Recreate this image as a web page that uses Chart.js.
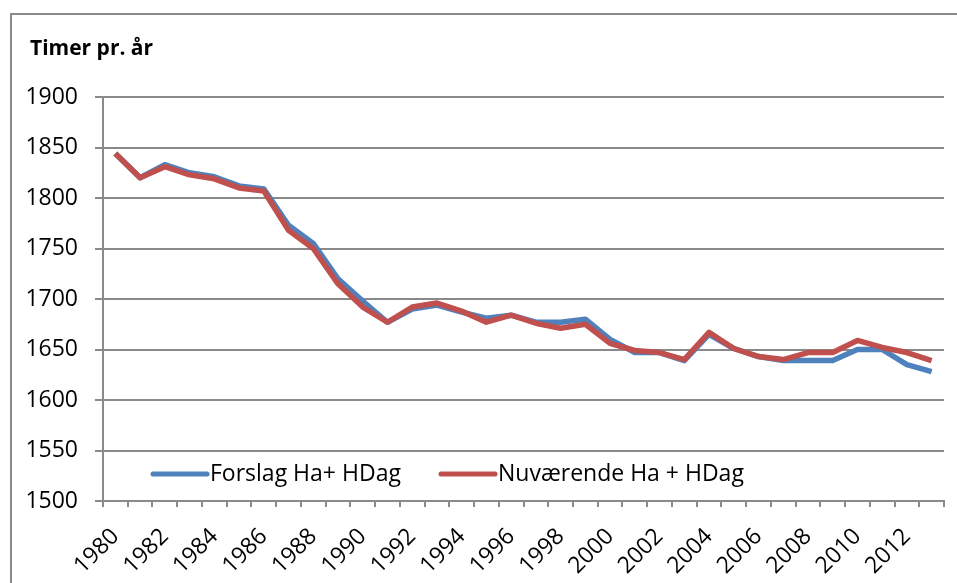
<!DOCTYPE html>
<html>
<head>
<meta charset="utf-8">
<script src="https://cdn.jsdelivr.net/npm/chart.js@4"></script>
<style>
  body { margin: 0; background: #fff; }
  #wrap { position: relative; width: 957px; height: 583px; }
</style>
</head>
<body>
<div id="wrap"><canvas id="timerChart"></canvas></div>
<script>
const years = [];
for (let y = 1980; y <= 2013; y++) years.push(String(y));

const forslag = [1844, 1820, 1833, 1825, 1821, 1812, 1809, 1773, 1755, 1720, 1698, 1677,
    1690, 1694, 1687, 1681, 1684, 1677, 1677, 1680, 1660, 1647, 1647, 1639, 1665, 1651,
    1643, 1639, 1639, 1639, 1650, 1650, 1635, 1628];
const nuvaerende = [1844, 1820, 1831, 1823, 1819, 1810, 1807, 1768, 1750, 1715, 1692, 1677,
    1692, 1696, 1688, 1677, 1684, 1676, 1671, 1675, 1656, 1649, 1647, 1640, 1667, 1651,
    1643, 1640, 1647, 1647, 1659, 1652, 1647, 1639];

const yTicks = [1500, 1550, 1600, 1650, 1700, 1750, 1800, 1850, 1900];
const titleText = "Timer pr. år";
const gridColor = "#8a8a8a";
const fontName = '"Open Sans", "Liberation Sans", sans-serif';

// title, legend inside the plot and the outer frame
const extras = {
    id: "extras",
    afterDraw(chart) {
        const ctx = chart.ctx;
        const area = chart.chartArea;
        ctx.save();
        ctx.strokeStyle = gridColor;
        ctx.lineWidth = 2;
        ctx.strokeRect(11, 14, 960, 600);

        ctx.fillStyle = "#000";
        ctx.font = "bold 21px " + fontName;
        ctx.textBaseline = "middle";
        ctx.textAlign = "left";
        ctx.fillText(titleText, 30, 49);

        ctx.font = "23px " + fontName;
        const legendY = area.bottom - 27;
        const starts = [area.left + 50, area.left + 338];
        chart.data.datasets.forEach((ds, i) => {
            const x = starts[i];
            ctx.strokeStyle = ds.borderColor;
            ctx.lineWidth = 5;
            ctx.lineCap = "round";
            ctx.beginPath();
            ctx.moveTo(x, legendY);
            ctx.lineTo(x + 54, legendY);
            ctx.stroke();
            ctx.fillText(ds.label, x + 57, legendY);
        });
        ctx.restore();
    }
};

const ctx = document.getElementById("timerChart").getContext("2d");
new Chart(ctx, {
    type: "line",
    data: {
        labels: years,
        datasets: [
            {
                label: "Forslag Ha+ HDag",
                data: forslag,
                borderColor: "#4F81BD",
                borderWidth: 5.5,
                pointRadius: 0,
                tension: 0,
                borderJoinStyle: "round",
                order: 2
            },
            {
                label: "Nuværende Ha + HDag",
                data: nuvaerende,
                borderColor: "#C0504D",
                borderWidth: 5.5,
                pointRadius: 0,
                tension: 0,
                borderJoinStyle: "round",
                order: 1
            }
        ]
    },
    options: {
        responsive: true,
        maintainAspectRatio: false,
        animation: false,
        layout: { padding: { top: 97, right: 13, left: 0, bottom: 0 } },
        plugins: {
            legend: { display: false },
            tooltip: { enabled: false }
        },
        scales: {
            x: {
                offset: true,
                grid: {
                    offset: true,
                    drawOnChartArea: false,
                    drawTicks: true,
                    tickLength: 6,
                    color: gridColor,
                    lineWidth: 2
                },
                border: { color: gridColor, width: 2 },
                ticks: {
                    autoSkip: false,
                    maxRotation: 45,
                    minRotation: 45,
                    padding: 16,
                    color: "#000",
                    font: { family: fontName, size: 23 },
                    callback: function (value, index) {
                        return index % 2 === 0 ? years[index] : "";
                    }
                },
                afterFit(scale) {
                    scale.height = 82;
                    scale.paddingLeft = 0;
                    scale.paddingRight = 0;
                }
            },
            y: {
                min: 1500,
                max: 1900,
                afterBuildTicks(scale) {
                    scale.ticks = yTicks.map(v => ({ value: v }));
                },
                grid: {
                    color: gridColor,
                    lineWidth: 2,
                    tickLength: 8
                },
                border: { color: gridColor, width: 2 },
                ticks: {
                    padding: 17,
                    color: "#000",
                    font: { family: fontName, size: 23 },
                    callback: v => String(v)
                },
                afterFit(scale) {
                    scale.width = 103;
                    scale.paddingTop = 0;
                    scale.paddingBottom = 0;
                }
            }
        }
    },
    plugins: [extras]
});
</script>
</body>
</html>
